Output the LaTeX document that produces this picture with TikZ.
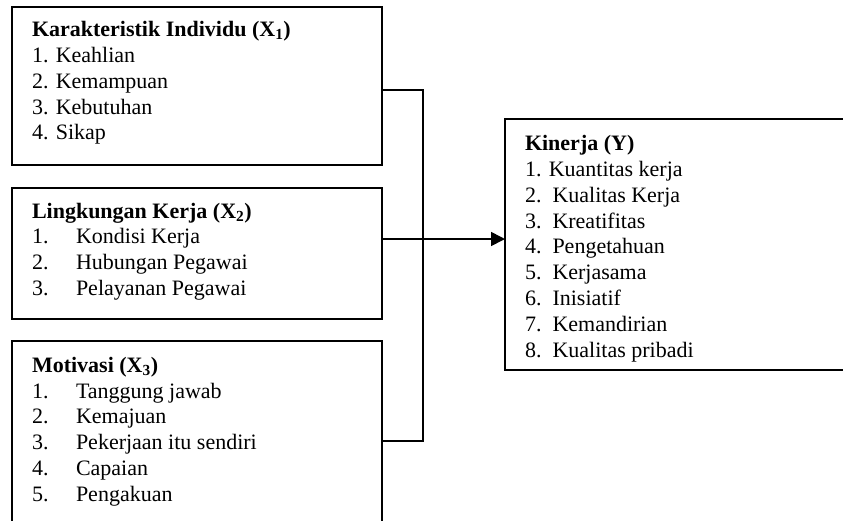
\documentclass[tikz,border=0pt]{standalone}
\usepackage{fontspec}
\setmainfont{Liberation Serif}
\usetikzlibrary{arrows.meta}
\tikzset{
  box/.style={draw, line width=1.6pt, rectangle, inner sep=0pt, outer sep=0pt, anchor=north west},
  txt/.style={inner sep=0pt, outer sep=0pt, anchor=base west, font=\fontsize{22}{25.8}\selectfont},
  conn/.style={line width=1.6pt},
}
\newcommand{\numb}[1]{\makebox[44pt][l]{#1}}
\renewcommand{\arraystretch}{1}
\begin{document}
\begin{tikzpicture}[x=1pt,y=-1pt]
\useasboundingbox (0,0) rectangle (843,520);
\clip (0,0) rectangle (843,520);
% boxes
\node[box, minimum width=370, minimum height=158] (b1) at (12,7) {};
\node[box, minimum width=370, minimum height=131] (b2) at (12,188) {};
\node[box, minimum width=370, minimum height=200] (b3) at (12,341) {};
\node[box, minimum width=360, minimum height=251] (k) at (505,119) {};
% texts
\node[txt] (t1) at (32,36.7) {\begin{tabular}[t]{@{}l@{}}
\textbf{Karakteristik Individu (X\textsubscript{1})}\\
1. Keahlian\\
2. Kemampuan\\
3. Kebutuhan\\
4. Sikap
\end{tabular}};
\node[txt] (t2) at (32,218) {\begin{tabular}[t]{@{}l@{}}
\textbf{Lingkungan Kerja (X\textsubscript{2})}\\
\numb{1.}Kondisi Kerja\\
\numb{2.}Hubungan Pegawai\\
\numb{3.}Pelayanan Pegawai
\end{tabular}};
\node[txt] (t3) at (32,372.3) {\begin{tabular}[t]{@{}l@{}}
\textbf{Motivasi (X\textsubscript{3})}\\
\numb{1.}Tanggung jawab\\
\numb{2.}Kemajuan\\
\numb{3.}Pekerjaan itu sendiri\\
\numb{4.}Capaian\\
\numb{5.}Pengakuan
\end{tabular}};
\node[txt] (tk) at (525,150.7) {\begin{tabular}[t]{@{}l@{}}
\textbf{Kinerja (Y)}\\
1. Kuantitas kerja\\
2.\ \ Kualitas Kerja\\
3.\ \ Kreatifitas\\
4.\ \ Pengetahuan\\
5.\ \ Kerjasama\\
6.\ \ Inisiatif\\
7.\ \ Kemandirian\\
8.\ \ Kualitas pribadi
\end{tabular}};
% connectors
\coordinate (j1) at (423,90);
\coordinate (j2) at (423,441);
\coordinate (am) at (0,239);
\draw[conn] (b1.east |- j1) -- (j1) -- (j2) -- (b3.east |- j2);
\draw[conn, -{Triangle[length=14pt,width=14pt]}] (b2.east |- am) -- (k.west |- am);
\end{tikzpicture}
\end{document}
